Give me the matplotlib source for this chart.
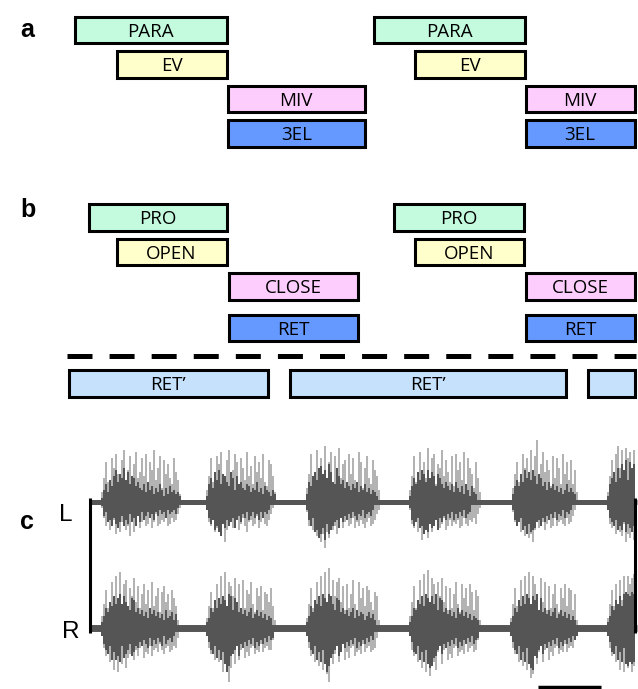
import numpy as np
import matplotlib
matplotlib.use("Agg")
import matplotlib.pyplot as plt

plt.rcParams["lines.scale_dashes"] = False

# panel a: phases, row centre, (start, end) of each episode
A_NAMES = ["PARA", "EV", "MIV", "3EL"]
A_ROWS = [30, 64.5, 99, 133.5]
A_SPANS = [
    [(74.5, 226.5), (373.5, 524.5)],
    [(116.5, 226.5), (414.5, 524.5)],
    [(228, 364.5), (525.5, 634.5)],
    [(228, 364.5), (525.5, 634.5)],
]
A_COLORS = ["#c4fbdf", "#ffffcc", "#fdcdfd", "#6699ff"]

# panel b
B_NAMES = ["PRO", "OPEN", "CLOSE", "RET", "RET\u2019"]
B_ROWS = [217.5, 252, 286.5, 328, 383.5]
B_SPANS = [
    [(88.5, 226.5), (393.5, 523.5)],
    [(116.5, 226.5), (414.5, 523.5)],
    [(228.5, 357.5), (525.5, 634.5)],
    [(228.5, 357.5), (525.5, 634.5)],
    [(68.5, 267.5), (289.5, 565.5), (587.5, 634.5)],
]
B_COLORS = ["#c4fbdf", "#ffffcc", "#fdcdfd", "#6699ff", "#c5e1fb"]
B_TEXT = [[True, True], [True, True], [True, True], [True, True], [True, True, False]]

# panel c: burst onsets and amplitude per 2px column (base36, 1 unit = 2 px)
L_START = [102, 207, 307, 410, 513, 608]
L_LIGHT_UP = [
    "5cka9mhoe7lqbgn8jpcfmdo9kgqbhn7lejc9mfb4",
    "6dma8njpc9lqegok7mhbpdi9nfkcoa8ljd5",
    "7eoa9qhmdsbkp8ngrcjlaoemb9pk7hnc9lgd6",
    "6dna8pgkcrbmo9jhqdlfan8ogkbp9mhe7kc5",
    "7eka9ohmcqdnvbjpflg8ncmh9oekbl9g5",
    "5dlaoshqcrmpgq",
]
L_DARK_UP = [
    "2695b8dgaechbf9dc8a7695a6847596374856453",
    "39c7fbg9eda8fc6d9a7698576a574865364",
    "4a8dfbhiegcjfa9hd9b7a8697a5869574653",
    "38c9fbgeagcfd8ec97a8695a7584963854",
    "48b8eagcfbgd9ec8a6a7968574695754",
    "39cfahcjglbkhj",
]
L_LIGHT_DN = [
    "38c6eb9gdfa8ech9fb7da9cb8da6cb9a7cb8a963",
    "4ac8fd9gbkea7dc9eb8cfa9cb7da8bc963",
    "5c9ebhdkgnfi9ecgb8da9cb8dac9bda8cb964",
    "4bd8fcjgeibfc9edb8ec9cab9dc8bc9a8b63",
    "5ac8fdhbigke9dcaeb9dc8ca9bc8ba74",
    "4bdagcfhbkgiej",
]
L_DARK_DN = [
    "275a9c8bda7c9b6a8c7a5975869574658465463",
    "48b9ecfhbd9ca8d97a68597586958564",
    "49c8feigdjbgeca9d8a796857967486574",
    "39ca8dcgefbdc9e8a79685968574865",
    "49ca8ecgbfeda9c8a7968596748564",
    "48ac9eceafbdfc",
]

R_START = [102, 207, 307, 410, 511, 608]
R_LIGHT_UP = [
    "6cja9nfqcsbmo8kgpdlahmcj9nbgk8ildh9jfb4",
    "5bia8mfqcsbnlgpdm9oajhnc8kgl9ihdkb4",
    "5cka9neqcsbu9ognpdl9mahoc8nfkbljd9ig4",
    "6dla9oerbtcpm8ngpdl9kahnc8mfkbmi9jg4",
    "5ckb9oeqcsaqmg8pdn9lahmc8kfmbkj9h4",
    "5cjbmaoeqcqmpr",
]
R_DARK_UP = [
    "36a8dbgcfhcgdb9fe8a79685a7968574956847",
    "35a8eafcgebhg9fd8a7968a5796857465",
    "36b8ecgbhfdhgc9fe8a7968a59687468574",
    "36a9ecgbhfdgch9fe8a79685a7968574654",
    "36a8ebgchfcgeh9f8a7968a5796857464",
    "36b9ecgbhihgih",
]
R_LIGHT_DN = [
    "4ae9hcldmgiakfd9gbea8fcd9ebac8bda9cb9a5",
    "4ad9gchemfjrkdi9gb8fcea9dbc8ca9bb6",
    "4ae9hcjelgnraid9hb8gcfa9ecbd8ca9cba5",
    "4be9hckfmgoahlc9ib8gdfa9ecbd8ca9cb6",
    "4ad9hbjflgpnaic9hb8gcea9dbc8ca9a5",
    "4ae9hclfmgkhmj",
]
R_DARK_DN = [
    "48bd9gcgeh9fdb8ec9a7968a5968579486574",
    "47bd9fbgcimjedb9e8a79685a796857465",
    "47bd9gchbimjfdb9ec8a79685a79685746",
    "47cd9gchbikjfeb9d8a79685a7968574865",
    "47bd9gchaiklefb9d8a79685a796857464",
    "47cd9gchaijhih",
]

LIGHT = "#9c9c9c"
DARK = "#555555"

fig = plt.figure(figsize=(6.38, 6.89), dpi=100)
ax = fig.add_axes([0, 0, 1, 1])
ax.set_xlim(0, 638)
ax.set_ylim(689, 0)
ax.axis("off")

box_font = dict(family="Open Sans", fontsize=13.5, ha="center", va="baseline")


def draw_rows(names, rows, spans, colors, text_on=None):
    for i, (name, y, sp, col) in enumerate(zip(names, rows, spans, colors)):
        for j, (x0, x1) in enumerate(sp):
            ax.barh(y, x1 - x0, left=x0, height=26.5, color=col,
                    edgecolor="black", linewidth=2.2)
            if text_on is None or text_on[i][j]:
                ax.text((x0 + x1) / 2, y + 6.7, name, **box_font)


draw_rows(A_NAMES, A_ROWS, A_SPANS, A_COLORS)
draw_rows(B_NAMES, B_ROWS, B_SPANS, B_COLORS, B_TEXT)

# dashed separator
ax.plot([67, 636], [356, 356], color="black", lw=3.6, dashes=(18, 12.3),
        solid_capstyle="butt", dash_capstyle="butt")


def heights(s):
    return np.array([int(ch, 36) for ch in s]) * 2.0


def draw_trace(base, starts, lu, du, ld, dd, band):
    for x0, s in zip(starts, lu):
        xs = x0 + 2 * np.arange(len(s))
        ax.vlines(xs, base, base - heights(s), color=LIGHT, lw=1.1)
    for x0, s in zip(starts, ld):
        xs = x0 + 2 * np.arange(len(s))
        ax.vlines(xs, base, base + heights(s), color=LIGHT, lw=1.1)
    ax.plot([90, 637], [base, base], color=DARK, lw=band, solid_capstyle="butt")
    for x0, s in zip(starts, du):
        xs = x0 + 2 * np.arange(len(s))
        ax.vlines(xs, base, base - heights(s), color=DARK, lw=1.45)
    for x0, s in zip(starts, dd):
        xs = x0 + 2 * np.arange(len(s))
        ax.vlines(xs, base, base + heights(s), color=DARK, lw=1.45)


draw_trace(502, L_START, L_LIGHT_UP, L_DARK_UP, L_LIGHT_DN, L_DARK_DN, 3.6)
draw_trace(628, R_START, R_LIGHT_UP, R_DARK_UP, R_LIGHT_DN, R_DARK_DN, 5.0)

# side bars and scale bar
ax.plot([89.5, 89.5], [498, 633], color="black", lw=2.2, solid_capstyle="butt")
ax.plot([634.5, 634.5], [498, 633], color="black", lw=2.2, solid_capstyle="butt")
ax.plot([538, 601], [686.5, 686.5], color="black", lw=2.5, solid_capstyle="butt")

# panel letters and channel labels
lab = dict(family="Liberation Sans", fontsize=18, fontweight="bold", ha="left", va="baseline")
ax.text(20, 37, "a", **lab)
ax.text(20, 217, "b", **lab)
ax.text(20, 529, "c", **lab)
ch = dict(family="Liberation Sans", fontsize=17.5, ha="left", va="baseline")
ax.text(59, 521, "L", **ch)
ax.text(62, 638, "R", **ch)

fig.savefig("out.png", dpi=100)
